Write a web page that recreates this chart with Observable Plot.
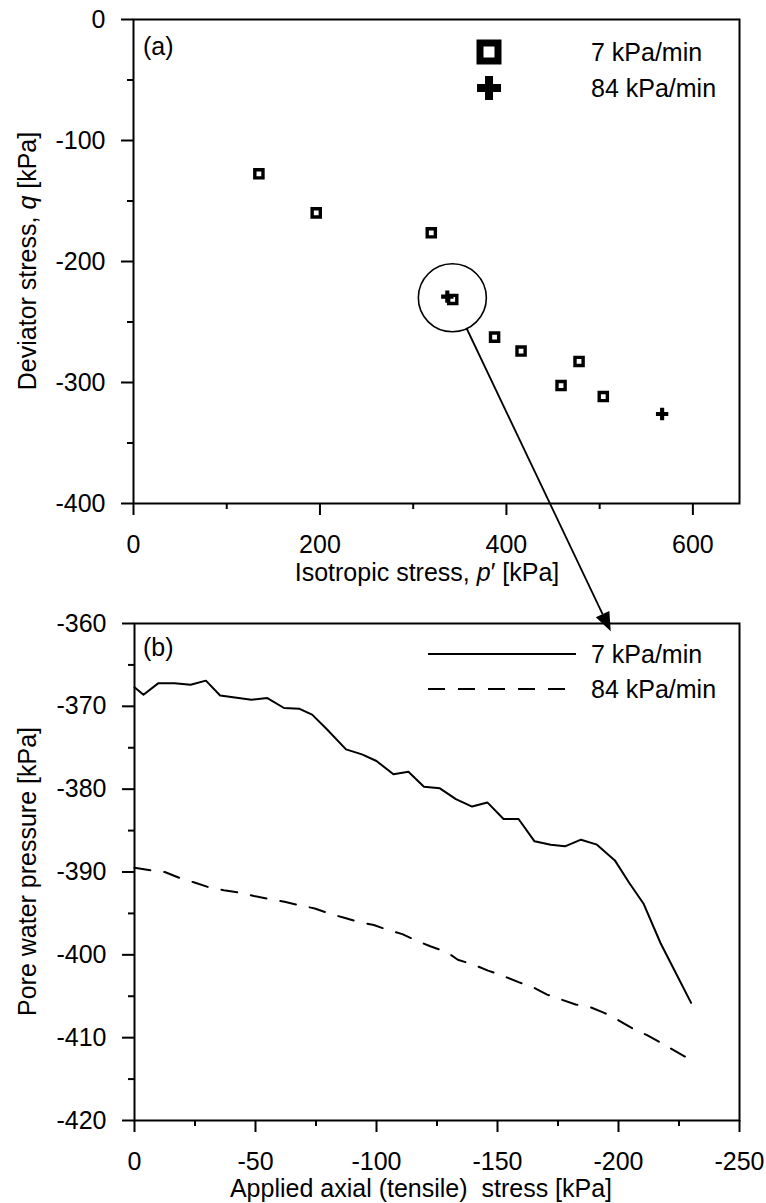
<!DOCTYPE html>
<html><head><meta charset="utf-8">
<script src="https://cdn.jsdelivr.net/npm/d3@7"></script>
<script src="https://cdn.jsdelivr.net/npm/@observablehq/plot@0.6"></script>
<style>
body{margin:0;background:#fff}
#wrap{position:relative;width:766px;height:1203px}
#wrap svg{display:block}
#overlay{position:absolute;left:0;top:0;pointer-events:none}
</style>
</head><body><div id="wrap"></div>
<script>
// ---------- Panel (a) data ----------
const seriesA = ["7 kPa/min", "84 kPa/min"];
const slowP = [134.5, 196, 319.4, 342.4, 387.3, 415.7, 477.9, 458.6, 503.9];
const slowQ = [-127.5, -159.8, -176.3, -231.4, -262.5, -274, -282.6, -302.5, -311.6];
const fastP = [336.6, 567];
const fastQ = [-229, -326];
const circleP = [342];
const circleQ = [-230];
const xTicksA = [0, 200, 400, 600];
const xMinorA = [100, 300, 500];
const yTicksA = [0, -100, -200, -300, -400];
const yMinorA = [-50, -150, -250, -350];

// ---------- Panel (b) data ----------
const slowS = [0, -3.7, -9.9, -16.5, -23.2, -29.5, -35.4, -48.3, -54.9, -61.8, -68.2, -73.4, -79.3, -87.4, -94, -100, -107, -113.2, -119.6, -126.2, -132.8, -139.5, -145.8, -152.5, -158.7, -165.3, -172, -177.9, -184.5, -191.1, -198.5, -204.4, -210.3, -217.4, -223, -230];
const slowU = [-367.7, -368.6, -367.2, -367.2, -367.4, -366.9, -368.7, -369.2, -369, -370.2, -370.3, -371, -372.7, -375.2, -375.8, -376.6, -378.2, -377.9, -379.7, -379.9, -381.2, -382.1, -381.6, -383.6, -383.6, -386.3, -386.7, -386.9, -386.1, -386.7, -388.6, -391.3, -393.8, -398.6, -401.8, -405.8];
const fastS = [0, -6.6, -12.5, -18.5, -25.1, -30.3, -36.9, -43.5, -49.4, -56.1, -62, -67.9, -74.5, -80.4, -86.3, -92.3, -98.9, -104.8, -110.7, -116.6, -122.5, -129.2, -133.6, -140.2, -146.1, -152, -158.7, -164.6, -170.5, -176.4, -182.3, -188.2, -194.1, -200, -205.9, -211.8, -217.4, -230];
const fastU = [-389.5, -389.8, -390, -390.7, -391.3, -391.8, -392.2, -392.5, -392.9, -393.3, -393.6, -394, -394.4, -395, -395.5, -396, -396.4, -397, -397.5, -398.3, -399, -399.7, -400.6, -401.2, -401.9, -402.5, -403.3, -403.9, -404.8, -405.4, -406, -406.3, -407, -407.9, -408.9, -409.7, -410.6, -412.7];
const arrowTargetS = -197;
const arrowTargetU = -361;
const xTicksB = [0, -50, -100, -150, -200, -250];
const xMinorB = [-25, -75, -125, -175, -225];
const yTicksB = [-360, -370, -380, -390, -400, -410, -420];
const yMinorB = [-365, -375, -385, -395, -405, -415];

const FONT = "Arial, 'Liberation Sans', sans-serif";
const FS = 25;
const wrap = document.getElementById("wrap");

function axes(xMaj, xMin, yMaj, yMin) {
  return [
    Plot.axisX({ticks: xMaj, tickSize: 12, tickPadding: 20, tickFormat: d => String(d), label: null, strokeWidth: 2, fontSize: FS}),
    Plot.axisX({ticks: xMin, tickSize: 6, tickFormat: () => "", label: null, strokeWidth: 2}),
    Plot.axisY({ticks: yMaj, tickSize: 12, tickPadding: 16, tickFormat: d => String(d), label: null, strokeWidth: 2, fontSize: FS}),
    Plot.axisY({ticks: yMin, tickSize: 6, tickFormat: () => "", label: null, strokeWidth: 2}),
    Plot.frame({stroke: "black", strokeWidth: 2})
  ];
}

const slowA = slowP.map((p, i) => ({p, q: slowQ[i]}));
const fastA = fastP.map((p, i) => ({p, q: fastQ[i]}));
const circ = circleP.map((p, i) => ({p, q: circleQ[i]}));

const HA = 600, HB = 603;
const chartA = Plot.plot({
  width: 766, height: HA,
  marginLeft: 133, marginRight: 27, marginTop: 19, marginBottom: 97,
  x: {domain: [0, 650]},
  y: {domain: [-400, 0]},
  style: {fontFamily: FONT, fontSize: FS + "px", color: "black", background: "white", overflow: "visible"},
  marks: [
    ...axes(xTicksA, xMinorA, yTicksA, yMinorA),
    Plot.dot(circ, {x: "p", y: "q", r: 34, stroke: "black", strokeWidth: 1.6, fill: "none"}),
    Plot.dot(slowA, {x: "p", y: "q", symbol: "square", r: 4.6, stroke: "black", strokeWidth: 3.4, fill: "white"}),
    Plot.dot(fastA, {x: "p", y: "q", symbol: "cross", r: 5.2, fill: "black", stroke: "none"})
  ]
});

const slowB = slowS.map((s, i) => ({s, u: slowU[i]}));
const fastB = fastS.map((s, i) => ({s, u: fastU[i]}));
const chartB = Plot.plot({
  width: 766, height: HB,
  marginLeft: 134, marginRight: 27, marginTop: 23, marginBottom: 83,
  x: {domain: [0, -250]},
  y: {domain: [-420, -360]},
  style: {fontFamily: FONT, fontSize: FS + "px", color: "black", background: "white", overflow: "visible"},
  marks: [
    ...axes(xTicksB, xMinorB, yTicksB, yMinorB),
    Plot.line(slowB, {x: "s", y: "u", stroke: "black", strokeWidth: 2}),
    Plot.line(fastB, {x: "s", y: "u", stroke: "black", strokeWidth: 2, strokeDasharray: "16,14"})
  ]
});

wrap.appendChild(chartA);
wrap.appendChild(chartB);

// ---------- overlay: labels, legends, arrow ----------
const ov = d3.select(wrap).append("svg").attr("id", "overlay")
  .attr("width", 766).attr("height", 1203)
  .style("font-family", FONT).style("font-size", FS + "px");

function addText(x, y, parts, opts = {}) {
  const t = ov.append("text").attr("x", x).attr("y", y)
    .attr("text-anchor", opts.anchor || "start").attr("fill", "black")
    .style("white-space", "pre");
  if (opts.rotate) t.attr("transform", `rotate(-90,${x},${y})`);
  for (const [s, it] of parts) {
    const sp = t.append("tspan").text(s);
    if (it) sp.attr("font-style", "italic");
  }
  return t;
}

const axA = chartA.scale("x"), ayA = chartA.scale("y");
const axB = chartB.scale("x"), ayB = chartB.scale("y");
const aL = axA.range[0], aR = axA.range[1], aT = ayA.range[1], aBt = ayA.range[0];
const bL = axB.range[0], bR = axB.range[1], bT = ayB.range[1] + HA, bBt = ayB.range[0] + HA;

// panel labels
addText(aL + 10, aT + 36, [["(a)", false]]);
addText(bL + 9, bT + 33, [["(b)", false]]);

// axis titles
addText(427, 581, [["Isotropic stress, ", false], ["p", true], ["\u2032 [kPa]", false]], {anchor: "middle"});
addText(36, (aT + aBt) / 2, [["Deviator stress, ", false], ["q", true], [" [kPa]", false]], {anchor: "middle", rotate: true});
addText(36, (bT + bBt) / 2, [["Pore water pressure [kPa]", false]], {anchor: "middle", rotate: true});
addText(421, 1197, [["Applied axial (tensile)  stress [kPa]", false]], {anchor: "middle"});

// legend (a)
const legA = ov.append("g");
legA.append("path").attr("d", d3.symbol(d3.symbolSquare, 18 * 18)())
  .attr("transform", `translate(489,52)`).attr("fill", "white").attr("stroke", "black").attr("stroke-width", 7);
legA.append("path").attr("d", d3.symbol(d3.symbolCross, 20 * 4 * 4)())
  .attr("transform", `translate(489,88)`).attr("fill", "black");
addText(591, 61, [[seriesA[0], false]]);
addText(591, 97, [[seriesA[1], false]]);

// legend (b)
ov.append("line").attr("x1", 428).attr("x2", 576).attr("y1", bT + 31).attr("y2", bT + 31)
  .attr("stroke", "black").attr("stroke-width", 2);
ov.append("line").attr("x1", 428).attr("x2", 570).attr("y1", bT + 66).attr("y2", bT + 66)
  .attr("stroke", "black").attr("stroke-width", 2).attr("stroke-dasharray", "17,13");
addText(591, bT + 40, [[seriesA[0], false]]);
addText(591, bT + 75, [[seriesA[1], false]]);

// arrow from circle (a) to panel (b)
const cx = axA.apply(circleP[0]), cy = ayA.apply(circleQ[0]);
const tx = axB.apply(arrowTargetS), ty = ayB.apply(arrowTargetU) + HA;
const dx = tx - cx, dy = ty - cy, len = Math.hypot(dx, dy);
const ux = dx / len, uy = dy / len;
const sx = cx + ux * 34, sy = cy + uy * 34;
const headL = 19, headW = 7.5;
const bx = tx - ux * headL, by = ty - uy * headL;
ov.append("line").attr("x1", sx).attr("y1", sy).attr("x2", bx).attr("y2", by)
  .attr("stroke", "black").attr("stroke-width", 1.8);
ov.append("path")
  .attr("d", `M${tx},${ty}L${bx - uy * headW},${by + ux * headW}L${bx + uy * headW},${by - ux * headW}Z`)
  .attr("fill", "black");
</script></body></html>
